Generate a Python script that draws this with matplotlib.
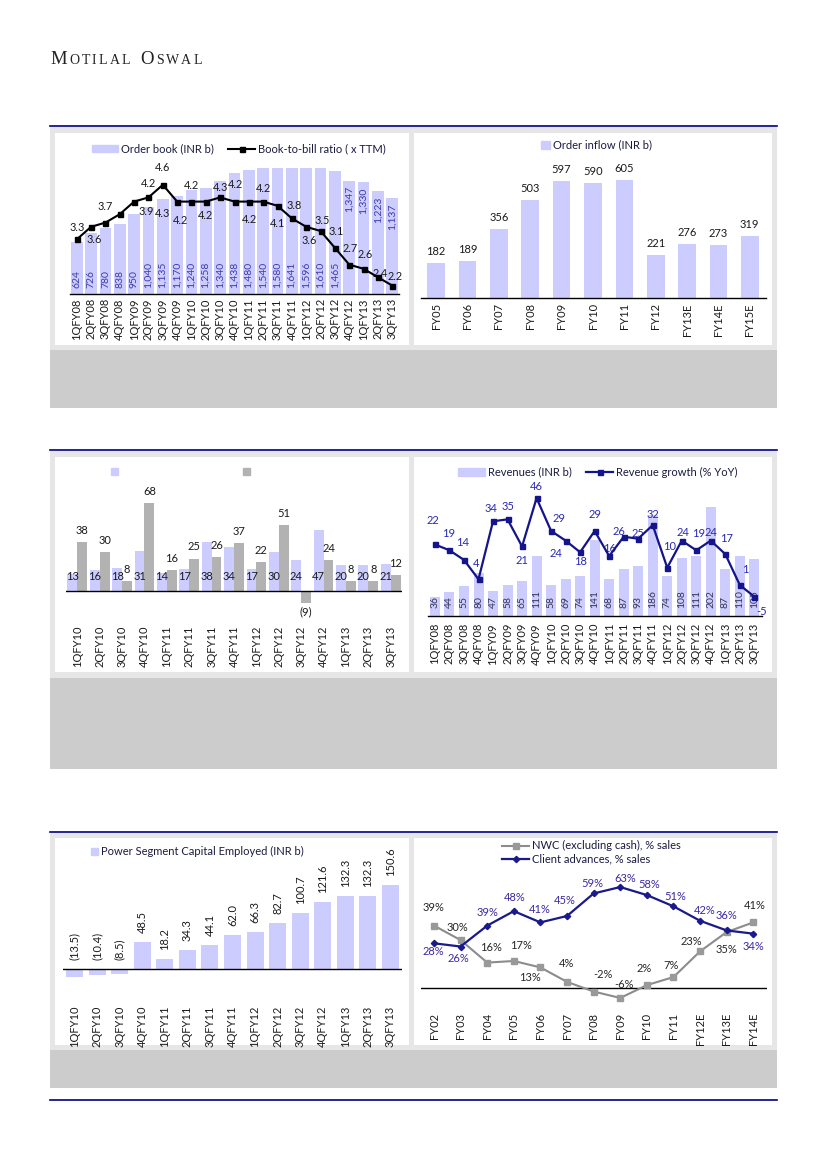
import matplotlib
matplotlib.use('Agg')
import matplotlib.pyplot as plt
from matplotlib.patches import Rectangle, Patch
from matplotlib.lines import Line2D

plt.rcParams['font.family'] = ['Lato', 'DejaVu Sans']

W, H = 826, 1169

# ---- data ----
quarters_08 = ['1QFY08', '2QFY08', '3QFY08', '4QFY08', '1QFY09', '2QFY09', '3QFY09', '4QFY09',
               '1QFY10', '2QFY10', '3QFY10', '4QFY10', '1QFY11', '2QFY11', '3QFY11', '4QFY11',
               '1QFY12', '2QFY12', '3QFY12', '4QFY12', '1QFY13', '2QFY13', '3QFY13']
quarters_10 = ['1QFY10', '2QFY10', '3QFY10', '4QFY10', '1QFY11', '2QFY11', '3QFY11', '4QFY11',
               '1QFY12', '2QFY12', '3QFY12', '4QFY12', '1QFY13', '2QFY13', '3QFY13']

order_book = [624, 726, 780, 838, 950, 1040, 1135, 1170, 1240, 1258, 1340, 1438, 1480, 1540,
              1580, 1641, 1596, 1610, 1465, 1347, 1330, 1223, 1137]
book_to_bill = [3.3, 3.6, 3.7, 3.9, 4.2, 4.3, 4.6, 4.2, 4.2, 4.2, 4.3, 4.2, 4.2, 4.2, 4.1,
                3.8, 3.6, 3.5, 3.1, 2.7, 2.6, 2.4, 2.2]

inflow_years = ['FY05', 'FY06', 'FY07', 'FY08', 'FY09', 'FY10', 'FY11', 'FY12', 'FY13E', 'FY14E', 'FY15E']
order_inflow = [182, 189, 356, 503, 597, 590, 605, 221, 276, 273, 319]

series_a = [13, 16, 18, 31, 14, 17, 38, 34, 17, 30, 24, 47, 20, 20, 21]
series_b = [38, 30, 8, 68, 16, 25, 26, 37, 22, 51, -9, 24, 8, 8, 12]

revenues = [36, 44, 55, 80, 47, 58, 65, 111, 58, 69, 74, 141, 68, 87, 93, 186, 74, 108, 111,
            202, 87, 110, 105]
revenue_growth = [22, 19, 14, 4, 34, 35, 21, 46, 29, 24, 18, 29, 16, 26, 25, 32, 10, 24, 19,
                  24, 17, 1, -5]

capital_employed = [-13.5, -10.4, -8.5, 48.5, 18.2, 34.3, 44.1, 62.0, 66.3, 82.7, 100.7, 121.6,
                    132.3, 132.3, 150.6]

wc_years = ['FY02', 'FY03', 'FY04', 'FY05', 'FY06', 'FY07', 'FY08', 'FY09', 'FY10', 'FY11',
            'FY12E', 'FY13E', 'FY14E']
nwc_pct = [39, 30, 16, 17, 13, 4, -2, -6, 2, 7, 23, 35, 41]
advances_pct = [28, 26, 39, 48, 41, 45, 59, 63, 58, 51, 42, 36, 34]

# label offsets (pixels) as placed in the source layout
b2b_offsets = [(0, 12), (3, -13), (0, 16), (26, 3), (14, 18), (14, -16), (0, 17), (3, -19),
               (0, 16), (0, -14), (0, 10), (1, 17), (1, -18), (0, 13), (0, -18), (2, 13),
               (3, -14), (2, 11), (1, 16), (1, 16), (2, 14), (2, 4), (3, 9)]
growth_offsets = [(-2, 24), (-1, 17), (-1, 17), (-2, 16), (-2, 13), (0, 13), (0, -14), (0, 12),
                  (8, 12), (-10, -13), (0, -9), (0, 16), (0, 8), (-5, 5), (0, 5), (0, 11),
                  (2, 21), (1, 8), (2, 17), (0, 8), (1, 16), (5, 16), (7, -15)]
nwc_offsets = [(0, 18), (-3, 13), (4, 15), (7, 15), (-10, -10), (-1, 18), (9, 17), (4, 13),
               (-3, 17), (-2, 12), (-9, 10), (0, -17), (1, 17)]
adv_offsets = [(-1, -8), (-2, -12), (0, 13), (1, 14), (-1, 13), (-2, 15), (-1, 10), (5, 9),
               (2, 11), (2, 10), (5, 10), (0, 15), (0, -13)]

LAV = '#ccccff'
GREY_BAR = '#b2b2b2'
NAVY = '#000080'
PANEL = '#e6e6e6'
CAPTION = '#cccccc'
TXT = '#1a1a1a'

fig = plt.figure(figsize=(W / 100, H / 100), dpi=100)
fig.patch.set_facecolor('white')

# page background in pixel coordinates
bg = fig.add_axes([0, 0, 1, 1])
bg.set_xlim(0, W)
bg.set_ylim(H, 0)
bg.axis('off')
bg.set_zorder(-5)

blocks = [(126, 127, 350, 133, 345, 350, 408),
          (450, 451, 678, 457, 672, 678, 769),
          (832, 833, 1050, 838, 1045, 1050, 1088)]
for rule_y, g0, g1, w0, w1, c0, c1 in blocks:
    bg.add_patch(Rectangle((50, g0), 727, g1 - g0, color=PANEL, lw=0))
    bg.add_patch(Rectangle((55, w0), 354, w1 - w0, color='white', lw=0))
    bg.add_patch(Rectangle((414, w0), 358, w1 - w0, color='white', lw=0))
    bg.add_patch(Rectangle((50, c0), 727, c1 - c0, color=CAPTION, lw=0))
    bg.plot([50, 777], [rule_y, rule_y], color=NAVY, lw=1.2)
bg.plot([50, 777], [1100, 1100], color=NAVY, lw=1.2)

# header in small caps
renderer = fig.canvas.get_renderer()
header = [('M', 13.5), ('O', 10), ('T', 10), ('I', 10), ('L', 10), ('A', 10), ('L', 10), (' ', 10),
          ('O', 13.5), ('S', 10), ('W', 10), ('A', 10), ('L', 10)]
widths = []
for ch, size in header:
    if ch == ' ':
        widths.append(5)
        continue
    t = bg.text(0, 0, ch, fontsize=size, family='Liberation Serif')
    widths.append(t.get_window_extent(renderer).width)
    t.remove()
track = (152 - sum(widths)) / (len(header) - 1)
x = 50
for (ch, size), w in zip(header, widths):
    if ch != ' ':
        bg.text(x, 64.5, ch, fontsize=size, family='Liberation Serif', va='baseline',
                ha='left', color='#222222')
    x += w + track


def add_ax(x0, y0, x1, y1):
    return fig.add_axes([x0 / W, 1 - y1 / H, (x1 - x0) / W, (y1 - y0) / H])


def style(ax, pad):
    for s in ax.spines.values():
        s.set_visible(False)
    ax.set_yticks([])
    ax.tick_params(axis='x', length=0, pad=pad, labelsize=8, rotation=90, colors=TXT)
    ax.set_facecolor('none')


def twin(ax):
    t = ax.twinx()
    for s in t.spines.values():
        s.set_visible(False)
    t.set_yticks([])
    t.set_facecolor('none')
    return t


def leg(ax, handles, labels, cx, cy, **kw):
    opts = dict(loc='center', bbox_to_anchor=(cx / W, 1 - cy / H), bbox_transform=fig.transFigure,
                frameon=False, fontsize=8, borderpad=0, borderaxespad=0, handleheight=0.7,
                labelcolor='#1a1a40')
    opts.update(kw)
    return ax.legend(handles, labels, **opts)


# ---- chart 1: order book & book-to-bill ----
ax1 = add_ax(69.6, 168, 399.4, 294)
style(ax1, 3)
x1 = range(len(quarters_08))
ax1.bar(x1, order_book, width=0.8, color=LAV, zorder=1)
ax1.set_xlim(-0.5, len(quarters_08) - 0.5)
ax1.set_ylim(0, 1500)
ax1.set_xticks(list(x1))
ax1.set_xticklabels(quarters_08)
ax1.axhline(0, color='black', lw=1, clip_on=False, zorder=3)
label_at_end = [False] * 19 + [True] * 4
for i, (v, end) in enumerate(zip(order_book, label_at_end)):
    if end:
        ax1.annotate(f'{v:,}', (i, v), xytext=(0, -5), textcoords='offset pixels', rotation=90,
                     ha='center', va='top', fontsize=7.5, color='#3a3ab0')
    else:
        ax1.annotate(f'{v:,}', (i, 0), xytext=(0, 6), textcoords='offset pixels', rotation=90,
                     ha='center', va='bottom', fontsize=7.5, color='#3a3ab0')
ax1b = twin(ax1)
ax1b.plot(list(x1), book_to_bill, color='black', lw=1.5, marker='s', ms=3.6, zorder=4)
ax1b.set_ylim(2, 5)
for i, (v, off) in enumerate(zip(book_to_bill, b2b_offsets)):
    ax1b.annotate(f'{v:.1f}', (i, v), xytext=off, textcoords='offset pixels', ha='center',
                  va='center', fontsize=7.8, color=TXT)
leg(ax1b, [Patch(color=LAV), Line2D([], [], color='black', lw=1.5, marker='s', ms=3.6)],
    ['Order book (INR b)', 'Book-to-bill ratio ( x TTM)'], 238.7, 149, ncol=2,
    handlelength=2.35, handletextpad=0.3, columnspacing=1.3)

# ---- chart 2: order inflow ----
ax2 = add_ax(420.5, 161.3, 765.5, 298.3)
style(ax2, 3.5)
x2 = range(len(inflow_years))
ax2.bar(x2, order_inflow, width=0.56, color=LAV, zorder=1)
ax2.set_xlim(-0.5, len(inflow_years) - 0.5)
ax2.set_ylim(0, 700)
ax2.set_xticks(list(x2))
ax2.set_xticklabels(inflow_years)
ax2.axhline(0, color='black', lw=1, clip_on=False, zorder=3)
for i, v in enumerate(order_inflow):
    ax2.annotate(f'{v}', (i, v), xytext=(0, 6), textcoords='offset pixels', ha='center',
                 va='bottom', fontsize=8, color=TXT)
leg(ax2, [Patch(color=LAV)], ['Order inflow (INR b)'], 596.7, 145,
    handlelength=0.8, handletextpad=0.25)

# ---- chart 3: paired quarterly bars ----
ax3 = add_ax(66.1, 487, 401.9, 617)
style(ax3, 6)
x3 = list(range(len(quarters_10)))
ax3.bar([i - 0.22 for i in x3], series_a, width=0.44, color=LAV, zorder=1)
ax3.bar([i + 0.22 for i in x3], series_b, width=0.44, color=GREY_BAR, zorder=1)
ax3.set_xlim(-0.5, len(quarters_10) - 0.5)
ax3.set_ylim(-20, 80)
ax3.set_xticks(x3)
ax3.set_xticklabels(quarters_10)
ax3.axhline(0, color='black', lw=1, zorder=3)
for i, v in enumerate(series_a):
    ax3.annotate(f'{v}', (i - 0.22, 0), xytext=(0, 14), textcoords='offset pixels', ha='center',
                 va='center', fontsize=8, color=TXT)
for i, v in enumerate(series_b):
    if v >= 0:
        ax3.annotate(f'{v}', (i + 0.22, v), xytext=(0, 6), textcoords='offset pixels',
                     ha='center', va='bottom', fontsize=8, color=TXT)
    else:
        ax3.annotate(f'({abs(v)})', (i + 0.22, v), xytext=(0, -4), textcoords='offset pixels',
                     ha='center', va='top', fontsize=8, color=TXT)
leg(ax3, [Patch(color=LAV), Patch(color=GREY_BAR)], ['', ''], 180.5, 471.7, ncol=2,
    handlelength=0.63, handleheight=0.63, handletextpad=0, columnspacing=11.2)

# ---- chart 4: revenues & growth ----
ax4 = add_ax(427.7, 480.7, 761.6, 616)
style(ax4, 5)
x4 = range(len(quarters_08))
ax4.bar(x4, revenues, width=0.69, color=LAV, zorder=1)
ax4.set_xlim(-0.5, len(quarters_08) - 0.5)
ax4.set_ylim(0, 250)
ax4.set_xticks(list(x4))
ax4.set_xticklabels(quarters_08)
ax4.axhline(0, color='black', lw=1, clip_on=False, zorder=3)
for i, v in enumerate(revenues):
    ax4.annotate(f'{v}', (i, 0), xytext=(0, 8), textcoords='offset pixels', rotation=90,
                 ha='center', va='bottom', fontsize=7.5, color='#333355')
ax4b = twin(ax4)
ax4b.plot(list(x4), revenue_growth, color='#14148c', lw=1.6, marker='s', ms=3.6, zorder=4)
ax4b.set_ylim(-15, 55)
for i, (v, off) in enumerate(zip(revenue_growth, growth_offsets)):
    ax4b.annotate(f'{v}', (i, v), xytext=off, textcoords='offset pixels', ha='center',
                  va='center', fontsize=8, color='#2828b4')
leg(ax4b, [Patch(color=LAV), Line2D([], [], color='#14148c', lw=1.6, marker='s', ms=3.6)],
    ['Revenues (INR b)', 'Revenue growth (% YoY)'], 597.8, 472, ncol=2,
    handlelength=2.4, handletextpad=0.3, columnspacing=1.3)

# ---- chart 5: power segment capital employed ----
ax5 = add_ax(63.4, 858, 401.6, 997)
style(ax5, 6)
x5 = range(len(quarters_10))
ax5.bar(x5, capital_employed, width=0.75, color=LAV, zorder=1)
ax5.set_xlim(-0.5, len(quarters_10) - 0.5)
ax5.set_ylim(-50, 200)
ax5.set_xticks(list(x5))
ax5.set_xticklabels(quarters_10)
ax5.axhline(0, color='black', lw=1, zorder=3)
for i, v in enumerate(capital_employed):
    txt = f'{v:.1f}' if v >= 0 else f'({abs(v):.1f})'
    ax5.annotate(txt, (i, max(v, 0)), xytext=(0, 9), textcoords='offset pixels', rotation=90,
                 ha='center', va='bottom', fontsize=8, color=TXT)
leg(ax5, [Patch(color=LAV)], ['Power Segment Capital Employed (INR b)'], 197.5, 851.7,
    handlelength=0.63, handleheight=0.63, handletextpad=0.3)

# ---- chart 6: working capital ----
ax6 = add_ax(420.7, 859.7, 766.6, 1004.4)
style(ax6, 6)
x6 = list(range(len(wc_years)))
ax6.plot(x6, nwc_pct, color='#8c8c8c', lw=1.5, marker='s', ms=3.8, mfc='#999999',
         mec='#999999', zorder=3)
ax6.plot(x6, advances_pct, color='#1a1a8c', lw=1.6, marker='D', ms=3.2, zorder=4)
ax6.set_xlim(-0.5, len(wc_years) - 0.5)
ax6.set_ylim(-10, 80)
ax6.set_xticks(x6)
ax6.set_xticklabels(wc_years)
ax6.axhline(0, color='black', lw=1, zorder=2)
for i, (v, off) in enumerate(zip(nwc_pct, nwc_offsets)):
    ax6.annotate(f'{v}%', (i, v), xytext=off, textcoords='offset pixels', ha='center',
                 va='center', fontsize=8, color='#262626')
for i, (v, off) in enumerate(zip(advances_pct, adv_offsets)):
    ax6.annotate(f'{v}%', (i, v), xytext=off, textcoords='offset pixels', ha='center',
                 va='center', fontsize=8, color='#3c28a0')
leg(ax6, [Line2D([], [], color='#8c8c8c', lw=1.5, marker='s', ms=3.8, mfc='#999999', mec='#999999'),
          Line2D([], [], color='#1a1a8c', lw=1.6, marker='D', ms=3.2)],
    ['NWC (excluding cash), % sales', 'Client advances, % sales'], 501.7, 852.5,
    loc='center left', handlelength=2.5, handletextpad=0.2, labelspacing=0.2)

fig.savefig('out.png', dpi=100)
